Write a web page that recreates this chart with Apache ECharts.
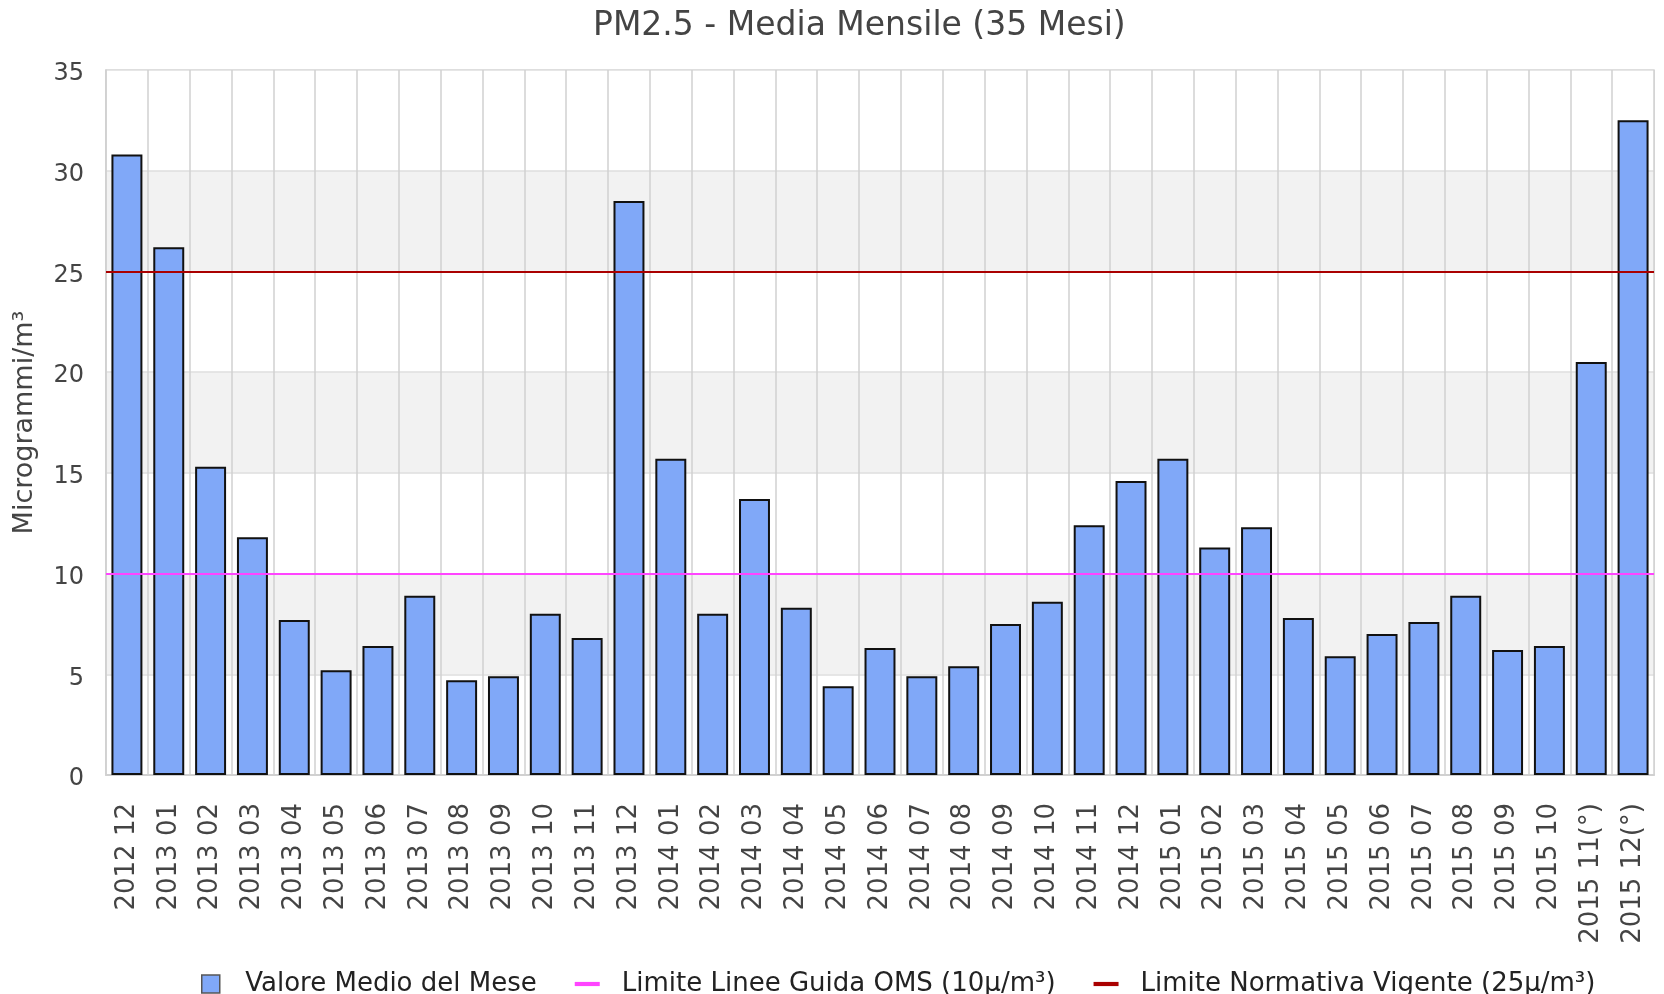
<!DOCTYPE html>
<html>
<head>
<meta charset="utf-8">
<title>PM2.5 - Media Mensile</title>
<script src="https://cdn.jsdelivr.net/npm/echarts@6/dist/echarts.min.js"></script>
<style>
    html,body{margin:0;padding:0;background:#fff;}
    #chart{width:1664px;height:994px;}
</style>
</head>
<body>
<div id="chart"></div>
<script>
//mesi
var months = ['2012 12',
    '2013 01','2013 02','2013 03','2013 04','2013 05','2013 06','2013 07','2013 08','2013 09','2013 10','2013 11','2013 12',
    '2014 01','2014 02','2014 03','2014 04','2014 05','2014 06','2014 07','2014 08','2014 09','2014 10','2014 11','2014 12',
    '2015 01','2015 02','2015 03','2015 04','2015 05','2015 06','2015 07','2015 08','2015 09','2015 10','2015 11(°)','2015 12(°)'];
//valore medio del mese
var monthlyMean = [30.8,
    26.2,15.3,11.8,7.7,5.2,6.4,8.9,4.7,4.9,8.0,6.8,28.5,
    15.7,8.0,13.7,8.3,4.4,6.3,4.9,5.4,7.5,8.6,12.4,14.6,
    15.7,11.3,12.3,7.8,5.9,7.0,7.6,8.9,6.2,6.4,20.5,32.5];
//limiti
var limitNames = ['Limite Linee Guida OMS (10µ/m³)','Limite Normativa Vigente (25µ/m³)'];
var limitValues = [10,25];
var limitColors = ['#ff44ff','#aa0000'];
//asse y
var yTicks = [0,5,10,15,20,25,30,35];

var font = 'DejaVu Sans';
var squareIcon = 'path://M0,0h10v10h-10z';
var lineIcon = 'path://M0,0h24v4h-24z';

function limitSeries(i){
    return {
        name: limitNames[i],
        type: 'line',
        data: [],
        itemStyle: {color: limitColors[i]},
        lineStyle: {color: limitColors[i]},
        markLine: {
            silent: true,
            symbol: 'none',
            label: {show: false},
            lineStyle: {color: limitColors[i], width: 2, type: 'solid'},
            data: [{yAxis: limitValues[i]}]
        }
    };
}

var e = echarts.init(document.getElementById('chart'));
var option = {
    animation: false,
    backgroundColor: '#fff',
    textStyle: {fontFamily: font},
    title: {
        text: 'PM2.5 - Media Mensile (35 Mesi)',
        left: 588,
        top: 5,
        textStyle: {fontFamily: font, fontSize: 33, fontWeight: 'normal', color: '#444'}
    },
    legend: {
        top: 966,
        left: 196,
        itemWidth: 25,
        itemHeight: 18,
        itemGap: 38,
        textStyle: {fontFamily: font, fontSize: 26, color: '#222', padding: [0,0,0,17]},
        data: [
            {name: 'Valore Medio del Mese', icon: squareIcon, itemStyle: {color: '#80a8f8', borderColor: '#555', borderWidth: 1.5}},
            {name: limitNames[0], icon: lineIcon},
            {name: limitNames[1], icon: lineIcon}
        ]
    },
    grid: {left: 106, right: 10, top: 70, bottom: 219, show: true, borderColor: '#d6d6d6', borderWidth: 1.5},
    xAxis: {
        type: 'category',
        data: months,
        boundaryGap: true,
        axisTick: {show: false},
        axisLine: {lineStyle: {color: '#d0d0d0', width: 2}},
        axisLabel: {rotate: 90, margin: 28, fontFamily: font, fontSize: 26, color: '#444', interval: 0},
        splitLine: {show: true, interval: 0, lineStyle: {color: '#d0d0d0', width: 1.5}}
    },
    yAxis: {
        type: 'value',
        min: yTicks[0],
        max: yTicks[yTicks.length - 1],
        interval: yTicks[1] - yTicks[0],
        name: 'Microgrammi/m³',
        nameLocation: 'middle',
        nameGap: 68,
        nameTextStyle: {fontFamily: font, fontSize: 27, color: '#444'},
        axisTick: {show: false},
        axisLine: {show: true, lineStyle: {color: '#d0d0d0', width: 1.5}},
        axisLabel: {margin: 22, fontFamily: font, fontSize: 24, color: '#444', verticalAlign: 'top', lineHeight: 8},
        splitLine: {show: true, lineStyle: {color: '#dedede', width: 1.5}},
        splitArea: {show: true, areaStyle: {color: ['#ffffff','#f2f2f2']}}
    },
    series: [
        {
            name: 'Valore Medio del Mese',
            type: 'bar',
            data: monthlyMean,
            barCategoryGap: '26%',
            itemStyle: {color: '#80a8f8', borderColor: '#111', borderWidth: 2}
        },
        limitSeries(0),
        limitSeries(1)
    ]
};
e.setOption(option);
</script>
</body>
</html>
